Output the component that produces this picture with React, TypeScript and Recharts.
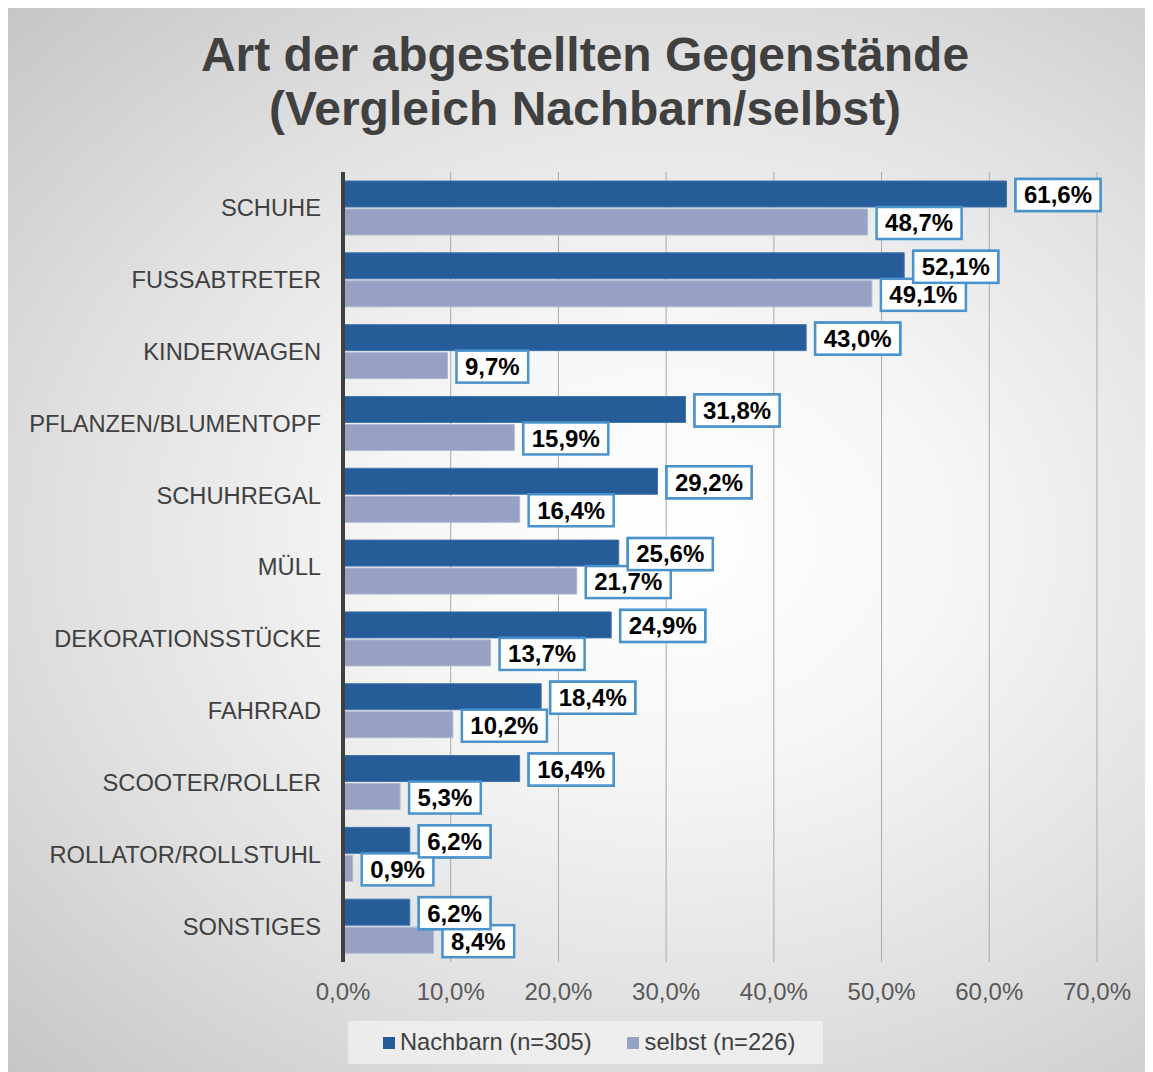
import React from 'react';
import { BarChart, Bar, XAxis, YAxis, CartesianGrid, LabelList } from 'recharts';

const categories = [
  'SCHUHE',
  'FUSSABTRETER',
  'KINDERWAGEN',
  'PFLANZEN/BLUMENTOPF',
  'SCHUHREGAL',
  'MÜLL',
  'DEKORATIONSSTÜCKE',
  'FAHRRAD',
  'SCOOTER/ROLLER',
  'ROLLATOR/ROLLSTUHL',
  'SONSTIGES',
];
const nachbarn = [61.6, 52.1, 43.0, 31.8, 29.2, 25.6, 24.9, 18.4, 16.4, 6.2, 6.2];
const selbst = [48.7, 49.1, 9.7, 15.9, 16.4, 21.7, 13.7, 10.2, 5.3, 0.9, 8.4];
const xTicks = [0, 10, 20, 30, 40, 50, 60, 70];
const seriesNames = ['Nachbarn (n=305)', 'selbst (n=226)'];

const data = categories.map((name, i) => ({ name, nachbarn: nachbarn[i], selbst: selbst[i] }));

const FONT = "'Liberation Sans', Arial, sans-serif";
const C_NACH = '#265c98';
const C_SELB = '#97a1c3';

const fmt = (v: number) => v.toFixed(1).replace('.', ',') + '%';

const charW = (s: string) => {
  let w = 0;
  for (const c of s) {
    if (c >= '0' && c <= '9') w += 0.556;
    else if (c === ',') w += 0.278;
    else if (c === '%') w += 0.889;
    else w += 0.556;
  }
  return w;
};

const LabelBox = ({ endX, cy, value }: { endX: number; cy: number; value: number }) => {
  const txt = fmt(value);
  const tw = charW(txt) * 24;
  const w = tw + 17;
  const h = 32;
  const bx = endX + 9;
  const by = cy + 1 - h / 2;
  return (
    <g>
      <rect x={bx} y={by} width={w} height={h} fill="#ffffff" stroke="#4a92cc" strokeWidth={2.5} />
      <text
        x={bx + w / 2}
        y={cy + 1}
        dy="0.35em"
        textAnchor="middle"
        fontFamily={FONT}
        fontWeight="bold"
        fontSize={24}
        fill="#000000"
      >
        {txt}
      </text>
    </g>
  );
};

const getBox = (props: any) => {
  const vb = props.viewBox || {};
  const x = Number(props.x ?? vb.x);
  const y = Number(props.y ?? vb.y);
  const width = Number(props.width ?? vb.width);
  const height = Number(props.height ?? vb.height);
  return { x, y, width, height };
};

const NachbarnLabel = (props: any) => {
  const { x, y, width, height } = getBox(props);
  const value = Number(props.value);
  return <LabelBox endX={x + width} cy={y + height / 2} value={value} />;
};

// selbst labels are drawn; then the Nachbarn label of the same row is drawn again on top,
// so that Nachbarn boxes overlap selbst boxes as in the original.
const SelbstLabel = (props: any) => {
  const { x, y, width, height } = getBox(props);
  const value = Number(props.value);
  const idx = Number(props.index);
  const nv = nachbarn[idx];
  const pxPerUnit = value !== 0 ? width / value : 0;
  const nEnd = x + nv * pxPerUnit;
  const nCy = y + height / 2 - (height + 2);
  return (
    <g>
      <LabelBox endX={x + width} cy={y + height / 2} value={value} />
      {pxPerUnit > 0 ? <LabelBox endX={nEnd} cy={nCy} value={nv} /> : null}
    </g>
  );
};

export default function App() {
  return (
    <div
      style={{
        position: 'relative',
        width: 1145,
        height: 1064,
        outline: '1px solid #d2d2d2',
        background:
          'radial-gradient(ellipse at 58% 50%, #ffffff 0%, #f6f6f6 30%, #e0e0e0 65%, #c6c6c6 100%)',
        fontFamily: FONT,
      }}
    >
      <div
        style={{
          position: 'absolute',
          left: 4.5,
          top: 20,
          width: 1145,
          textAlign: 'center',
          fontSize: 48,
          lineHeight: '54px',
          fontWeight: 'bold',
          color: '#404040',
        }}
      >
        Art der abgestellten Gegenstände
        <br />
        (Vergleich Nachbarn/selbst)
      </div>
      <div style={{ position: 'absolute', left: 0, top: 0 }}>
        <BarChart
          width={1145}
          height={1064}
          data={data}
          layout="vertical"
          margin={{ top: 164, right: 56, bottom: 70, left: 0 }}
          barSize={26}
          barGap={2}
        >
          <CartesianGrid horizontal={false} stroke="#a9a9a9" strokeWidth={1} />
          <XAxis
            type="number"
            domain={[0, 70]}
            ticks={xTicks}
            tickFormatter={(v: number) => fmt(v)}
            axisLine={false}
            tickLine={false}
            tickSize={0}
            tickMargin={21}
            height={40}
            tick={{ fill: '#595959', fontSize: 24, fontFamily: FONT }}
            interval={0}
          />
          <YAxis
            type="category"
            dataKey="name"
            width={335}
            axisLine={{ stroke: '#404040', strokeWidth: 4 }}
            tickLine={false}
            tickSize={0}
            tickMargin={22}
            interval={0}
            tick={{ fill: '#404040', fontSize: 23.7, fontFamily: FONT }}
          />
          <Bar dataKey="nachbarn" name={seriesNames[0]} fill={C_NACH} stroke="#4274ad" strokeWidth={1} isAnimationActive={false}>
            <LabelList dataKey="nachbarn" content={NachbarnLabel} />
          </Bar>
          <Bar dataKey="selbst" name={seriesNames[1]} fill={C_SELB} stroke="#b0b8d3" strokeWidth={1} isAnimationActive={false}>
            <LabelList dataKey="selbst" content={SelbstLabel} />
          </Bar>
        </BarChart>
      </div>
      <div
        style={{
          position: 'absolute',
          left: 340,
          top: 1013,
          width: 475,
          height: 43,
          background: 'rgba(248,248,248,0.6)',
          display: 'flex',
          alignItems: 'center',
          fontSize: 23.7,
          color: '#404040',
          whiteSpace: 'nowrap',
        }}
      >
        <span style={{ display: 'inline-block', width: 12, height: 12, background: C_NACH, marginLeft: 35, marginRight: 5 }} />
        <span>{seriesNames[0]}</span>
        <span style={{ display: 'inline-block', width: 12, height: 12, background: C_SELB, marginLeft: 35, marginRight: 6 }} />
        <span>{seriesNames[1]}</span>
      </div>
    </div>
  );
}
